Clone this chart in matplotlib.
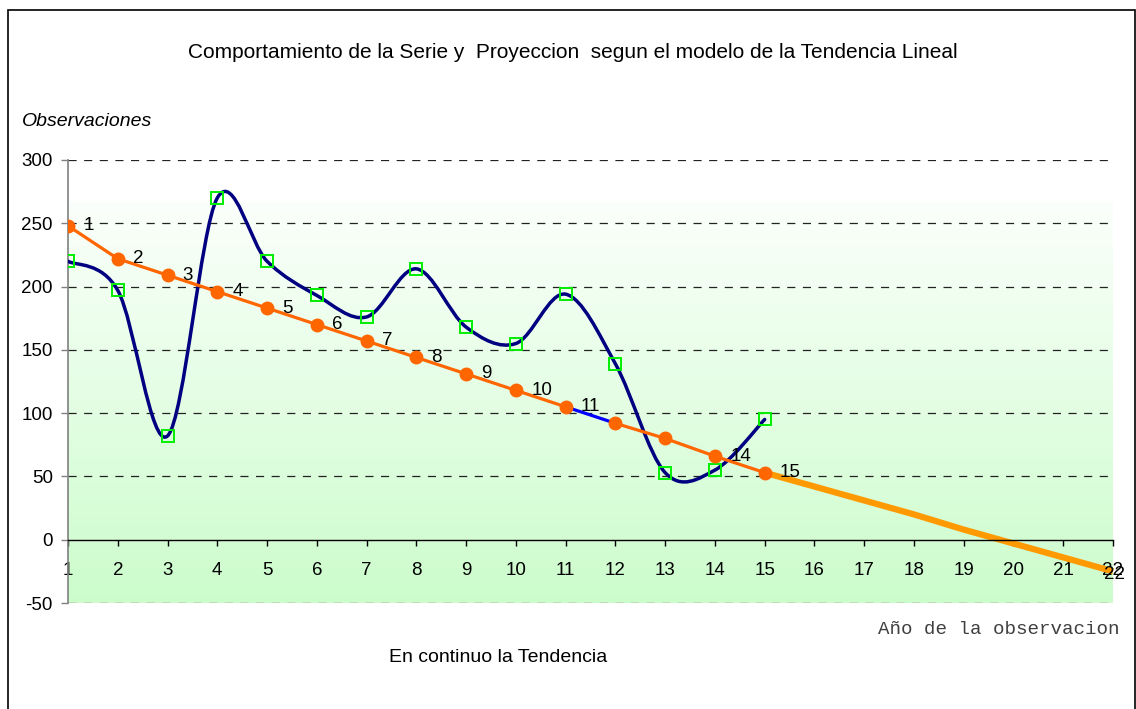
import numpy as np
import matplotlib
matplotlib.use("Agg")
import matplotlib.pyplot as plt
from matplotlib.path import Path
from matplotlib.patches import PathPatch, Rectangle
from matplotlib.colors import LinearSegmentedColormap

# ---- data ----
years = [1, 2, 3, 4, 5, 6, 7, 8, 9, 10, 11, 12, 13, 14, 15]
serie = [220, 197, 82, 270, 220, 193, 176, 214, 168, 155, 194, 139, 53, 55, 95]
tendencia = [248, 222, 209, 196, 183, 170, 157, 144, 131, 118, 105, 92, 80, 66, 53]
trend_labels = ['1', '2', '3', '4', '5', '6', '7', '8', '9', '10', '11', '', '', '14', '15']
proj_years = [15, 16, 17, 18, 19, 20, 21, 22]
proyeccion = [53, 42, 31, 20, 8, -3, -14, -25]
x_ticks = list(range(1, 23))
y_ticks = [-50, 0, 50, 100, 150, 200, 250, 300]

W, H = 1136, 709
fig = plt.figure(figsize=(W / 100, H / 100), dpi=100)
plt.rcParams['font.family'] = ['Liberation Sans', 'DejaVu Sans']
FS = 13.5

ax = fig.add_axes([68 / W, 1 - 603 / H, (1113 - 68) / W, (603 - 160) / H])
ax.set_facecolor('none')

# gradient background (white near top, light green at bottom)
cmap = LinearSegmentedColormap.from_list('g', [(0.985, 1.0, 0.985), (0.80, 0.99, 0.80)])
grad = np.linspace(1, 0, 256).reshape(-1, 1)
ax.imshow(grad, extent=(1, 22, -50, 267), origin='lower', aspect='auto', cmap=cmap,
          zorder=0)
ax.set_xlim(1, 22)
ax.set_ylim(-50, 300)

# grid
for yv in y_ticks:
    if yv == 0:
        continue
    ax.axhline(yv, color='#222222', lw=0.9, ls=(0, (6.5, 6.0)), zorder=1)

# spines
for s in ['top', 'right']:
    ax.spines[s].set_visible(False)
ax.spines['left'].set_color('#808080')
ax.spines['left'].set_linewidth(1.2)
ax.spines['bottom'].set_position(('data', 0))
ax.spines['bottom'].set_color('black')
ax.spines['bottom'].set_linewidth(1.0)

ax.set_xticks(x_ticks)
ax.set_xticklabels([str(v) for v in x_ticks])
ax.set_yticks(y_ticks)
ax.set_yticklabels([str(v) for v in y_ticks])
ax.tick_params(axis='x', length=4, width=1, pad=12, labelsize=FS, color='black')
ax.tick_params(axis='y', length=5, width=1, pad=6, labelsize=FS, color='#808080')

# smoothed series (Catmull-Rom style bezier like Excel)
xs = np.array(years, float)
ys = np.array(serie, float)
n = len(xs)
verts = [(xs[0], ys[0])]
codes = [Path.MOVETO]
for i in range(n - 1):
    p0 = (xs[max(i - 1, 0)], ys[max(i - 1, 0)])
    p1 = (xs[i], ys[i])
    p2 = (xs[i + 1], ys[i + 1])
    p3 = (xs[min(i + 2, n - 1)], ys[min(i + 2, n - 1)])
    c1 = (p1[0] + (p2[0] - p0[0]) / 6, p1[1] + (p2[1] - p0[1]) / 6)
    c2 = (p2[0] - (p3[0] - p1[0]) / 6, p2[1] - (p3[1] - p1[1]) / 6)
    verts += [c1, c2, p2]
    codes += [Path.CURVE4] * 3
ax.add_patch(PathPatch(Path(verts, codes), fill=False, edgecolor='#000080', lw=2.5,
                       zorder=3, capstyle='round', joinstyle='round'))
ax.plot(years, serie, ls='none', marker='s', ms=8.5, mfc='none', mec='#00ee00', mew=1.4,
        zorder=5)

# projection
ax.plot(proj_years, proyeccion, color='#ff9900', lw=4.5, zorder=2, clip_on=False,
        solid_capstyle='butt')

# trend
ax.plot(years[:11], tendencia[:11], color='#ff6600', lw=2.3, zorder=4)
ax.plot(years[10:12], tendencia[10:12], color='#0000ff', lw=2.3, zorder=4)
ax.plot(years[11:], tendencia[11:], color='#ff6600', lw=2.3, zorder=4)
ax.plot(years, tendencia, ls='none', marker='o', ms=9, mfc='#ff6600', mec='#ff6600',
        zorder=6)

for xv, yv, lab in zip(years, tendencia, trend_labels):
    if lab:
        ax.annotate(lab, (xv, yv), xytext=(11, 0), textcoords='offset points',
                    ha='left', va='center', fontsize=FS, zorder=7)
ax.annotate(str(proj_years[-1]), (proj_years[-1], proyeccion[-1]), xytext=(1, -2.5),
            textcoords='offset points', ha='center', va='center', fontsize=FS,
            zorder=7, annotation_clip=False)

# texts
fig.text(573 / W, 1 - 52 / H,
         'Comportamiento de la Serie y  Proyeccion  segun el modelo de la Tendencia Lineal',
         ha='center', va='center', fontsize=15)
fig.text(22 / W, 1 - 121 / H, 'Observaciones', ha='left', va='center', fontsize=14,
         style='italic')
fig.text(1120 / W, 1 - 629 / H, 'Año de la observacion', ha='right', va='center',
         fontsize=13.8, family=['Liberation Mono', 'DejaVu Sans Mono'], color='#404040')
fig.text(498 / W, 1 - 657 / H, 'En continuo la Tendencia', ha='center', va='center',
         fontsize=14)

# outer frame
fig.patches.append(Rectangle((8 / W, -0.01), (1135 - 8) / W, 1 - 10 / H + 0.01,
                             transform=fig.transFigure, fill=False, edgecolor='black',
                             lw=1.2))

fig.savefig('out.png', dpi=100)
